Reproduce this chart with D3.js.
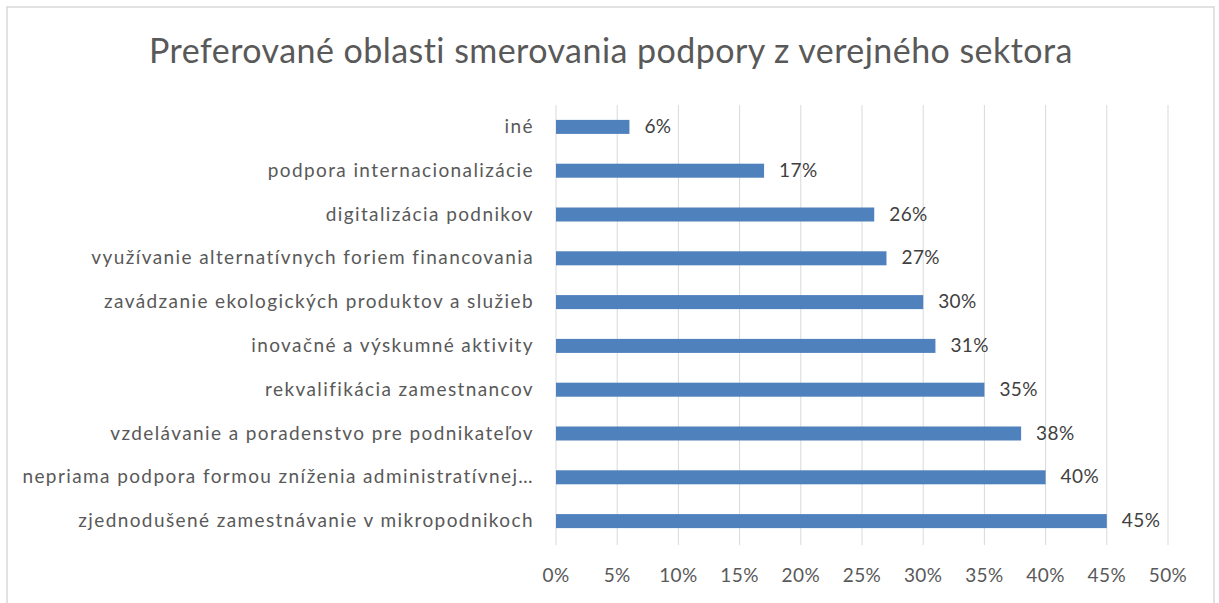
<!DOCTYPE html>
<html>
<head>
<meta charset="utf-8">
<script src="https://cdn.jsdelivr.net/npm/d3@7"></script>
<style>
  body { margin: 0; background: #fff; overflow: hidden; }
  svg { display: block; }
  text { font-family: Lato, "Open Sans", sans-serif; }
</style>
</head>
<body>
<svg class="bc" width="1219" height="603"></svg>
<script>
// categories top to bottom, as in the chart
const categories = [
    'iné',
    'podpora internacionalizácie',
    'digitalizácia podnikov',
    'využívanie alternatívnych foriem financovania',
    'zavádzanie ekologických produktov a služieb',
    'inovačné a výskumné aktivity',
    'rekvalifikácia zamestnancov',
    'vzdelávanie a poradenstvo pre podnikateľov',
    'nepriama podpora formou zníženia administratívnej…',
    'zjednodušené zamestnávanie v mikropodnikoch'
]
const values = [0.06, 0.17, 0.26, 0.27, 0.30, 0.31, 0.35, 0.38, 0.40, 0.45]
const ticks = [0, 0.05, 0.10, 0.15, 0.20, 0.25, 0.30, 0.35, 0.40, 0.45, 0.50]
const title = 'Preferované oblasti smerovania podpory z verejného sektora'

const svg = d3.select('.bc')
const width = +svg.attr('width')
const height = +svg.attr('height')
const margin = { top: 105, right: 51, bottom: 60, left: 556 }
const pct = d3.format('.0%')

// chart area border (bottom edge lies outside the picture)
svg.append('path')
    .attr('d', `M7,${height} V7 H${width - 5} V${height}`)
    .attr('fill', 'none')
    .attr('stroke', '#d9d9d9')
    .attr('stroke-width', 1.5)

svg.append('text')
    .attr('x', 611)
    .attr('y', 63)
    .attr('text-anchor', 'middle')
    .attr('fill', '#595959')
    .style('font-size', '34px')
    .style('letter-spacing', '0.45px')
    .text(title)

const data = categories.map((c, i) => ({ Name: c, datavals: values[i] }))

const innerWidth = width - margin.left - margin.right
const innerHeight = height - margin.top - margin.bottom

const xscale = d3.scaleLinear().domain([0, 0.5]).range([0, innerWidth])
const yscale = d3.scaleBand().domain(categories).range([0, innerHeight]).paddingInner(0.68).paddingOuter(0.34)
const mid = d => yscale(d) + yscale.bandwidth() / 2

const g = svg.append('g').attr('transform', `translate(${margin.left},${margin.top})`)

// vertical gridlines
g.selectAll('.grid').data(ticks)
    .enter().append('line')
    .attr('class', 'grid')
    .attr('x1', d => xscale(d)).attr('x2', d => xscale(d))
    .attr('y1', 0).attr('y2', innerHeight + 2)
    .attr('stroke', '#d9d9d9')
    .attr('stroke-width', 1)

// x tick labels
g.selectAll('.xt').data(ticks)
    .enter().append('text')
    .attr('class', 'xt')
    .attr('x', d => xscale(d))
    .attr('y', innerHeight + 39)
    .attr('text-anchor', 'middle')
    .attr('fill', '#595959')
    .style('font-size', '19px')
    .style('letter-spacing', '0.4px')
    .text(pct)

// category labels
g.selectAll('.yt').data(categories)
    .enter().append('text')
    .attr('class', 'yt')
    .attr('x', -22)
    .attr('y', d => mid(d) + 6)
    .attr('text-anchor', 'end')
    .attr('fill', '#595959')
    .style('font-size', '19px')
    .style('letter-spacing', '1.4px')
    .text(d => d)

g.selectAll('.bar').data(data)
    .enter().append('rect')
    .attr('class', 'bar')
    .attr('x', 0)
    .attr('y', d => yscale(d.Name))
    .attr('width', d => xscale(d.datavals))
    .attr('height', yscale.bandwidth())
    .attr('fill', '#4f81bd')

g.selectAll('.lbl').data(data)
    .enter().append('text')
    .attr('class', 'lbl')
    .attr('x', d => xscale(d.datavals) + 15)
    .attr('y', d => mid(d.Name) + 6)
    .attr('fill', '#404040')
    .style('font-size', '19px')
    .style('letter-spacing', '0.4px')
    .text(d => pct(d.datavals))
</script>
</body>
</html>
